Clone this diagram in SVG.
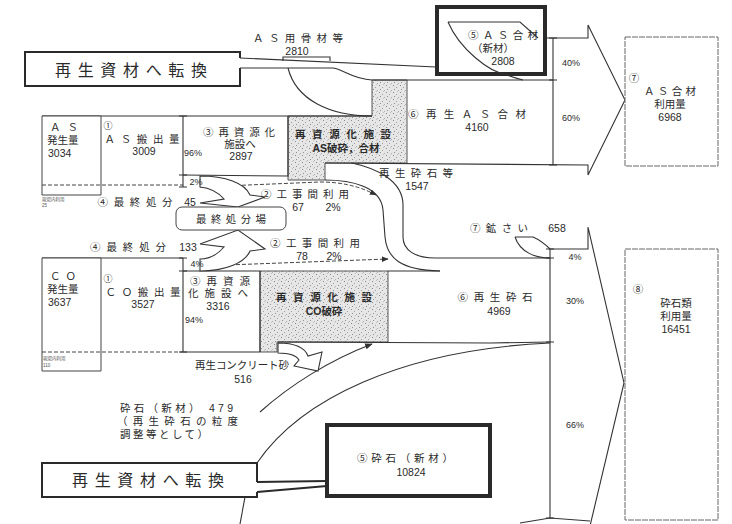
<svg xmlns="http://www.w3.org/2000/svg" width="732" height="524" viewBox="0 0 732 524">
<defs>
<pattern id="dots" width="7" height="7" patternUnits="userSpaceOnUse">
<rect width="7" height="7" fill="#e6e6e6"/>
<rect x="1" y="1" width="1" height="1" fill="#8a8a8a"/>
<rect x="4" y="3" width="1" height="1" fill="#a0a0a0"/>
<rect x="2" y="5" width="1" height="1" fill="#909090"/>
<rect x="6" y="6" width="1" height="1" fill="#b0b0b0"/>
<rect x="5" y="0" width="1" height="1" fill="#c0c0c0"/>
</pattern>
<marker id="ah" viewBox="0 0 10 10" refX="9" refY="5" markerWidth="7" markerHeight="7" orient="auto">
<path d="M0,1 L10,5 L0,9 Z" fill="#333"/>
</marker>
</defs>
<style>
text{font-family:"Liberation Sans","Noto Sans CJK JP",sans-serif;fill:#2a2a2a;font-size:10.5px;text-anchor:middle;dominant-baseline:central}
.s{text-anchor:start}
.b{font-weight:bold}
.big{font-size:16px}
.sm{font-size:9px}
.tiny{font-size:4.5px;fill:#555}
.l{stroke:#333;stroke-width:1.1;fill:none}
.d{stroke:#444;stroke-width:1;fill:none;stroke-dasharray:4 2}
.box{stroke:#444;stroke-width:1;fill:#fff}
.thin{stroke:#666;stroke-width:1;fill:#fff;stroke-dasharray:6 1}
.thick{stroke:#2a2a2a;stroke-width:4;fill:#fff}
.call{stroke:#2a2a2a;stroke-width:2;fill:none}
.st{fill:url(#dots);stroke:#555;stroke-width:1}
.tk{stroke:#333;stroke-width:1.2}
.h{stroke:#333;stroke-width:1.1;fill:#fff}
</style>

<g id="n-as-facility">
<path class="st" d="M288,116 L372,116 L372,80 L407,80 L407,163 L325,163 L325,180 L288,180 Z"/>
<text class="b" x="343" y="134" textLength="96">再資源化施設</text>
<text class="b" x="346" y="148">AS破砕，合材</text>
</g>
<g id="n-co-facility">
<path class="st" d="M260,271 L388,271 L388,342 L277,342 L277,352 L260,352 Z"/>
<text class="b" x="324" y="297" textLength="96">再資源化施設</text>
<text class="b" x="324" y="311">CO破砕</text>
</g>

<g id="connectors">
<path class="l" d="M240,58 L436,67" stroke-width="2.5"/>
<path class="l" d="M240,68 L333,68 C345,70 352,79 372,80 L553,80"/>
<path class="l" d="M288,68 C296,100 330,116 372,116"/>
<path class="l" d="M283,61 L283,57 L330,57 L330,61"/>
<path class="l" d="M42,116 L372,116"/>
<path class="l" d="M183,175 L288,176"/>
<path class="d" d="M42,185 L183,185"/>
<path class="l" d="M325,163 L588,165 L588,175 L625,100 L588,25 L588,38 L538,38 L520,22 L448,22"/>
<path class="l" d="M448,22 C460,50 490,72 523,80"/>
<path class="l" d="M352,163 C375,168 403,180 403,205 L403,237 C403,250 415,258 435,258 L550,258"/>
<path class="l" d="M325,180 C350,180 381,186 383,210 L385,237 C387,258 400,270 440,271"/>
<path class="l" d="M515,237 L533,237 C540,240 546,245 550,249 L588,249 L588,227 L624,383 L590,526"/>
<path class="l" d="M515,237 C520,252 535,258 550,258"/>
<path class="l" d="M42,258 L183,258"/>
<path class="l" d="M183,271 L260,271"/>
<path class="l" d="M388,271 L440,271"/>
<path class="d" d="M42,352 L183,352"/>
<path class="l" d="M183,352 L260,352"/>
<path class="l" d="M278,342 L490,343 L550,342"/>
<path class="d" d="M200,187 L320,182 Q352,182 376,195" marker-end="url(#ah)"/>
<path class="d" d="M200,266 L388,259" marker-end="url(#ah)"/>
<path class="l" d="M260,412 C290,385 330,360 372,344" marker-end="url(#ah)"/>
<path class="l" d="M257,463 C300,400 400,350 550,343"/>
<path class="l" d="M245,497 L240,524"/>
<path class="l" d="M520,523 L550,518 L590,521"/>
<path class="h" d="M200,176 C225,176 245,183 250,195 L265,197 L238,207 L200,203 L224,199 C218,192 210,188 200,187 Z"/>
<path class="h" d="M200,271 C225,271 245,263 250,251 L265,249 L238,230 L200,244 L224,247 C218,254 210,259 200,259 Z"/>
<path class="h" d="M278,343 C295,343 305,348 308,356 L322,352 L318,371 L294,366 L299,360 C296,355 288,353 278,353 Z"/>
<path class="l" d="M183,116 L183,187 M183,258 L183,352"/>
<path class="l" d="M553,38 L553,165"/>
<path class="l" d="M550,249 L550,518"/>
<path class="tk" d="M179,116 L187,116 M179,175 L187,175 M179,187 L187,187 M179,258 L187,258 M179,271 L187,271 M179,352 L187,352 M549,38 L557,38 M549,80 L557,80 M549,165 L557,165 M546,249 L554,249 M546,258 L554,258 M546,342 L554,342 M546,518 L554,518"/>
</g>

<g id="callout-top">
<path class="call" d="M240,58 L240,52 L25,52 L25,86 L240,86 L240,68"/>
<text class="big" x="131" y="70" textLength="152">再生資材へ転換</text>
</g>
<g id="callout-bottom">
<path class="call" d="M257,482 L257,463 L42,463 L42,497 L257,497 L257,492"/>
<path class="call" d="M257,482 L327,481 M257,492 L327,486"/>
<text class="big" x="148" y="480" textLength="152">再生資材へ転換</text>
</g>

<g id="n-as-gen">
<path class="box" d="M42,116 L101,116 L101,195 L42,195 Z"/>
<path class="d" d="M42,185 L101,185"/>
<text class="s" x="50" y="127" textLength="28">ＡＳ</text>
<text class="s" x="47" y="140">発生量</text>
<text class="s" x="48" y="153">3034</text>
<text class="s tiny" x="42" y="199">現場内利用</text>
<text class="s tiny" x="42" y="205">25</text>
</g>
<g id="n-as-out">
<text x="108" y="126" class="sm">①</text>
<text x="142" y="139" textLength="75">ＡＳ搬出量</text>
<text x="144" y="151">3009</text>
</g>
<g id="n-as-recycle">
<path class="l" d="M288,116 L288,176"/>
<text x="239" y="132" textLength="72">③再資源化</text>
<text x="240" y="144">施設へ</text>
<text x="241" y="156">2897</text>
<text x="193" y="153" class="sm">96%</text>
<text x="196" y="182" class="sm">2%</text>
</g>

<g id="n-as-new">
<rect class="thick" x="437" y="7" width="108" height="67"/>
<path class="l" d="M448,22 L520,22 L538,38 M448,22 C460,50 490,72 505,74"/>
<text x="503" y="35" textLength="70">⑤ＡＳ合材</text>
<text x="493" y="48">（新材）</text>
<text x="503" y="61">2808</text>
</g>
<g id="labels-as">
<text x="298" y="38" textLength="90">ＡＳ用骨材等</text>
<text x="297" y="51">2810</text>
<text x="467" y="114" textLength="118">⑥再生ＡＳ合材</text>
<text x="477" y="127">4160</text>
<text x="571" y="63" class="sm">40%</text>
<text x="571" y="118" class="sm">60%</text>
<text x="416" y="173" textLength="74">再生砕石等</text>
<text x="417" y="186">1547</text>
<text x="305" y="194" textLength="88">②工事間利用</text>
<text x="298" y="207">67</text>
<text x="333" y="207">2%</text>
<text x="135" y="202" textLength="75">④最終処分</text>
<text x="190" y="202">45</text>
<text x="128" y="247" textLength="76">④最終処分</text>
<text x="188" y="247">133</text>
<text x="315" y="243" textLength="90">②工事間利用</text>
<text x="302" y="256">78</text>
<text x="334" y="256">2%</text>
<text x="197" y="264" class="sm">4%</text>
</g>

<g id="n-as-use">
<rect class="thin" x="625" y="37" width="93" height="129"/>
<text x="634" y="78">⑦</text>
<text x="670" y="91" textLength="52">ＡＳ合材</text>
<text x="670" y="104">利用量</text>
<text x="670" y="117">6968</text>
</g>

<g id="n-final">
<rect class="box" x="176" y="207" width="110" height="23" rx="6" stroke-width="1.3"/>
<text x="231" y="219" textLength="70">最終処分場</text>
</g>

<g id="n-co-gen">
<path class="box" d="M42,258 L101,258 L101,371 L42,371 Z"/>
<path class="d" d="M42,352 L101,352"/>
<text class="s" x="50" y="276" textLength="26">ＣＯ</text>
<text class="s" x="47" y="289">発生量</text>
<text class="s" x="48" y="302">3637</text>
<text class="s tiny" x="43" y="358">現場内利用</text>
<text class="s tiny" x="43" y="365">110</text>
</g>
<g id="n-co-out">
<text x="108" y="279" class="sm">①</text>
<text x="143" y="292" textLength="75">ＣＯ搬出量</text>
<text x="143" y="304">3527</text>
</g>
<g id="n-co-recycle">
<path class="l" d="M260,271 L260,352"/>
<text x="220" y="281" textLength="60">③再資源</text>
<text x="218" y="293" textLength="60">化施設へ</text>
<text x="218" y="306">3316</text>
<text x="194" y="320" class="sm">94%</text>
</g>

<g id="labels-stone">
<text x="499" y="228" textLength="58">⑦鉱さい</text>
<text x="557" y="228">658</text>
<text x="575" y="257" class="sm">4%</text>
<text x="495" y="297" textLength="75">⑥再生砕石</text>
<text x="499" y="311">4969</text>
<text x="575" y="301" class="sm">30%</text>
<text x="575" y="425" class="sm">66%</text>
<text x="242" y="365" textLength="94">再生コンクリート砂</text>
<text x="243" y="379">516</text>
<text class="s" x="120" y="408" textLength="113">砕石（新材） 479</text>
<text class="s" x="117" y="421" textLength="121">（再生砕石の粒度</text>
<text class="s" x="120" y="434" textLength="88">調整等として）</text>
</g>

<g id="n-stone-use">
<rect class="thin" x="625" y="249" width="93" height="271"/>
<text x="638" y="289">⑧</text>
<text x="676" y="303">砕石類</text>
<text x="676" y="316">利用量</text>
<text x="676" y="329">16451</text>
</g>

<g id="n-stone-new">
<rect class="thick" x="327" y="425" width="163" height="71"/>
<text x="405" y="458" textLength="96">⑤砕石（新材）</text>
<text x="411" y="472">10824</text>
</g>
</svg>
